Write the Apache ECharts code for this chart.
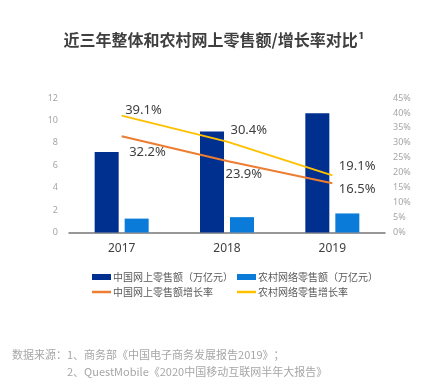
<!DOCTYPE html>
<html><head><meta charset="utf-8">
<script src="https://cdn.jsdelivr.net/npm/echarts@6/dist/echarts.min.js"></script>
<style>html,body{margin:0;padding:0;background:#fff}#c{width:428px;height:383px}</style>
</head><body><div id="c"></div>
<script>
const categories = ['2017', '2018', '2019'];
const onlineRetail = [7.18, 9.01, 10.63];      // 中国网上零售额（万亿元）
const ruralRetail = [1.24, 1.37, 1.70];        // 农村网络零售额（万亿元）
const onlineGrowth = [32.2, 23.9, 16.5];       // 中国网上零售额增长率 %
const ruralGrowth = [39.1, 30.4, 19.1];        // 农村网络零售增长率 %
const leftTicks = {min: 0, max: 12, interval: 2};
const rightTicks = {min: 0, max: 45, interval: 5};
const names = ['中国网上零售额（万亿元）', '农村网络零售额（万亿元）', '中国网上零售额增长率', '农村网络零售增长率'];

// label offsets (style only)
const onlineLabelOffsets = [[7, 16], [-2, 13], [6, 6]];
const ruralLabelOffsets = [[3, -5], [3, -11], [6, -9]];

const cjk = '"Noto Sans CJK SC", "Noto Sans", sans-serif';
const lineIcon = 'path://M0,0H19V2.5H0Z';
const colors = ['#00308f', '#0a7bd9', '#ed7d31', '#ffc000'];

function lineData(vals, offs) {
  return vals.map((v, i) => ({value: v, label: {offset: offs[i]}}));
}

const chart = echarts.init(document.getElementById('c'), null, {renderer: 'canvas'});
chart.setOption({
  animation: false,
  title: {
    text: '近三年整体和农村网上零售额/增长率对比¹',
    left: 'center', top: 27,
    textStyle: {fontFamily: cjk, fontSize: 16, fontWeight: 'bold', color: '#3f3f3f'}
  },
  grid: {left: 69, right: 43, top: 98, bottom: 150.5},
  legend: [
    {
      orient: 'vertical', left: 87, top: 267, itemWidth: 19, itemHeight: 6, itemGap: 5,
      textStyle: {fontFamily: cjk, fontSize: 10, color: '#595959', padding: [0, 0, 0, -3]},
      data: [{name: names[0], icon: 'rect'}, {name: names[2], icon: lineIcon, itemStyle: {color: colors[2]}}]
    },
    {
      orient: 'vertical', left: 232, top: 267, itemWidth: 19, itemHeight: 6, itemGap: 5,
      textStyle: {fontFamily: cjk, fontSize: 10, color: '#595959', padding: [0, 0, 0, -3]},
      data: [{name: names[1], icon: 'rect'}, {name: names[3], icon: lineIcon, itemStyle: {color: colors[3]}}]
    }
  ],
  xAxis: {
    type: 'category', data: categories,
    axisLine: {lineStyle: {color: '#767676', width: 1.5}},
    axisTick: {show: false},
    axisLabel: {fontFamily: '"Noto Sans", sans-serif', fontSize: 12, color: '#404040', margin: 10}
  },
  yAxis: [
    {
      type: 'value', min: leftTicks.min, max: leftTicks.max, interval: leftTicks.interval,
      splitLine: {show: false}, axisLine: {show: false}, axisTick: {show: false},
      axisLabel: {fontFamily: '"Noto Sans", sans-serif', fontSize: 9, color: '#a6a6a6', margin: 11}
    },
    {
      type: 'value', min: rightTicks.min, max: rightTicks.max, interval: rightTicks.interval,
      splitLine: {show: false}, axisLine: {show: false}, axisTick: {show: false},
      axisLabel: {formatter: '{value}%', fontFamily: '"Liberation Sans Narrow", "Noto Sans", sans-serif', fontSize: 9, color: '#a6a6a6', margin: 8}
    }
  ],
  series: [
    {
      name: names[0], type: 'bar', data: onlineRetail, barWidth: 24, barGap: '25%',
      itemStyle: {color: colors[0]}
    },
    {
      name: names[1], type: 'bar', data: ruralRetail, barWidth: 24,
      itemStyle: {color: colors[1]}
    },
    {
      name: names[2], type: 'line', yAxisIndex: 1, data: lineData(onlineGrowth, onlineLabelOffsets),
      symbol: 'circle', symbolSize: 1, itemStyle: {color: 'rgba(0,0,0,0)'},
      lineStyle: {color: colors[2], width: 2},
      label: {show: true, position: 'right', distance: 0, formatter: '{c}%', align: 'left',
        fontFamily: '"Noto Sans", sans-serif', fontSize: 13, color: '#404040'}
    },
    {
      name: names[3], type: 'line', yAxisIndex: 1, data: lineData(ruralGrowth, ruralLabelOffsets),
      symbol: 'circle', symbolSize: 1, itemStyle: {color: 'rgba(0,0,0,0)'},
      lineStyle: {color: colors[3], width: 2},
      label: {show: true, position: 'right', distance: 0, formatter: '{c}%', align: 'left',
        fontFamily: '"Noto Sans", sans-serif', fontSize: 13, color: '#404040'}
    }
  ],
  graphic: [
    {type: 'text', left: 12, top: 349, style: {text: '数据来源：1、商务部《中国电子商务发展报告2019》；', font: '11px "Noto Sans CJK SC", sans-serif', fill: '#a6a6a6'}},
    {type: 'text', left: 67, top: 366, style: {text: '2、QuestMobile《2020中国移动互联网半年大报告》', font: '11px "Noto Sans CJK SC", sans-serif', fill: '#a6a6a6'}}
  ]
});
</script></body></html>
